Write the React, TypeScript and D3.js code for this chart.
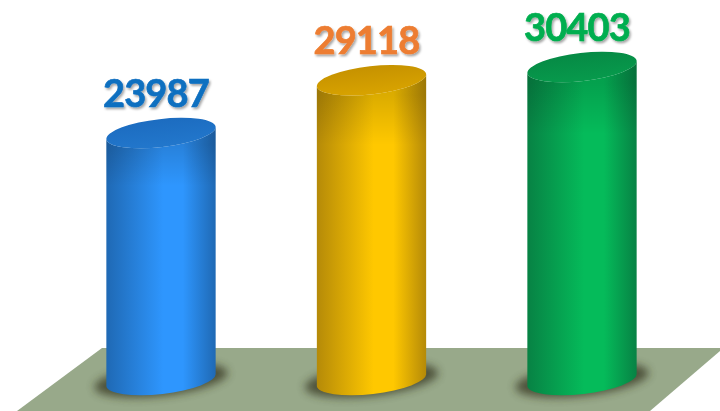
import React from "react";
import * as d3 from "d3";

const categories = ["A", "B", "C"];
const values = [23987, 29118, 30403];
const palette = [
  { label: "#0f6fc0", top: "#1c6cc0", topEdge: "#2277cc", edge: "#1f69b4", mid: "#2e96fe" },
  { label: "#ed7d31", top: "#c69200", topEdge: "#d8a300", edge: "#b58a08", mid: "#ffc800" },
  { label: "#00ae50", top: "#068a45", topEdge: "#079a4c", edge: "#078244", mid: "#05bb5a" },
];

const W = 720, H = 411;
const x = d3.scalePoint<string>().domain(categories).range([161, 582]);
const y = d3.scaleLinear().domain([0, 30403]).range([380, 67]);
const RX = 55, RY = 14, TILT = -6.5;
const rad = (TILT * Math.PI) / 180;
const dx = RX * Math.cos(rad), dy = RX * Math.sin(rad);

function bodyPath(cx: number, topY: number, baseY: number) {
  const arc = `A${RX},${RY} ${TILT} 0 0 ${cx + dx},${baseY + dy}`;
  const arcTop = `A${RX},${RY} ${TILT} 0 1 ${cx - dx},${topY - dy}`;
  return `M${cx - dx},${topY - dy}L${cx - dx},${baseY - dy}${arc}L${cx + dx},${topY + dy}${arcTop}Z`;
}

export default function App() {
  const base = y(0);
  return (
    <svg width={W} height={H} viewBox={`0 0 ${W} ${H}`}
      style={{ position: "fixed", left: 0, top: 0, background: "#fff" }}>
      <defs>
        <filter id="blur" x="-30%" y="-60%" width="160%" height="220%">
          <feGaussianBlur stdDeviation="4.5" />
        </filter>
        <filter id="txt" x="-10%" y="-20%" width="120%" height="150%">
          <feDropShadow dx="1.5" dy="2" stdDeviation="1.2" floodColor="#000" floodOpacity="0.35" />
        </filter>
        <linearGradient id="shade" x1="0" x2="0" y1="0" y2="0.22">
          <stop offset="0.3" stopColor="#000" stopOpacity="0.14" />
          <stop offset="1" stopColor="#000" stopOpacity="0" />
        </linearGradient>
        {palette.map((c, i) => (
          <React.Fragment key={i}>
            <linearGradient id={`body${i}`} x1="0" x2="1" y1="0" y2="0">
              <stop offset="0" stopColor={c.edge} />
              <stop offset="0.52" stopColor={c.mid} />
              <stop offset="0.7" stopColor={c.mid} />
              <stop offset="1" stopColor={c.edge} />
            </linearGradient>
            <linearGradient id={`top${i}`} x1="0" x2="0" y1="0" y2="1">
              <stop offset="0" stopColor={c.top} />
              <stop offset="1" stopColor={c.topEdge} />
            </linearGradient>
          </React.Fragment>
        ))}
      </defs>
      <polygon points="102,348 720,348 720,351 650,411 17,411" fill="#98a98a" />
      {categories.map((cat, i) => {
        const cx = x(cat)!;
        const topY = y(values[i]);
        const c = palette[i];
        const d = bodyPath(cx, topY, base);
        return (
          <g key={cat}>
            <ellipse cx={cx} cy={base} rx={RX + 12} ry={RY + 2}
              transform={`rotate(${TILT} ${cx} ${base})`} fill="#33301f" opacity={0.72} filter="url(#blur)" />
            <path d={d} fill={`url(#body${i})`} />
            <path d={d} fill="url(#shade)" />
            <ellipse cx={cx} cy={topY} rx={RX} ry={RY}
              transform={`rotate(${TILT} ${cx} ${topY})`} fill={`url(#top${i})`} />
            <text x={cx - 5} y={topY - 26} textAnchor="middle"
              fontFamily="Lato, 'Open Sans', sans-serif" fontWeight={700} fontSize={38} letterSpacing={-0.8}
              fill={c.label} stroke={c.label} strokeWidth={0.7} filter="url(#txt)">
              {values[i]}
            </text>
          </g>
        );
      })}
    </svg>
  );
}
